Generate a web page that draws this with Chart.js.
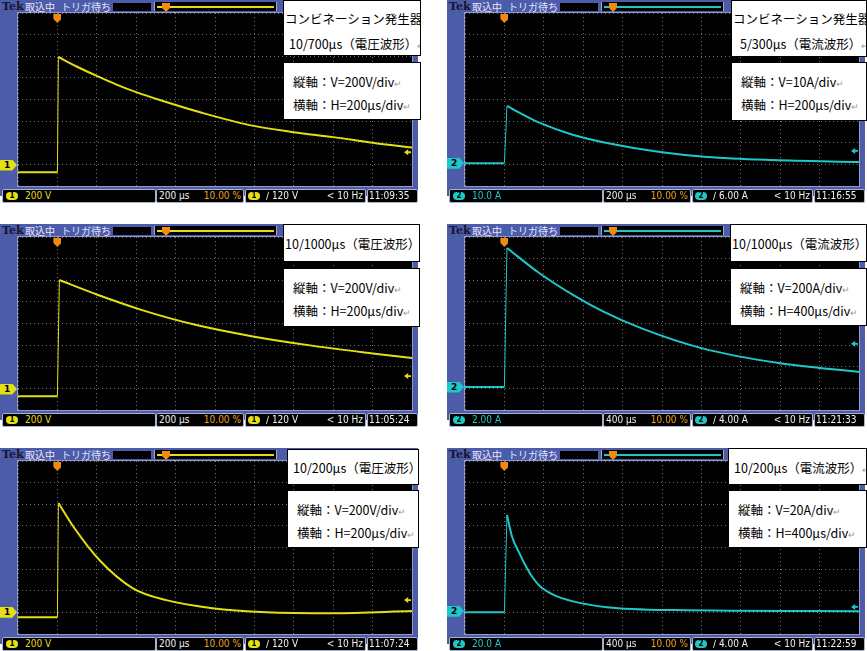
<!DOCTYPE html>
<html lang="ja">
<head>
<meta charset="UTF-8">
<title>コンビネーション発生器 波形</title>
<script src="https://cdn.jsdelivr.net/npm/chart.js"></script>
<style>
  body { margin:0; background:#fff; width:867px; height:651px; position:relative; overflow:hidden;
         font-family:"Noto Sans CJK JP", "Noto Sans", sans-serif; }
  .scope { position:absolute; width:418px; height:203px; }
  .frame { position:absolute; left:0; top:0; width:418px; height:196px; background:#4d5ca9; }
  .hdr { position:absolute; top:0; height:13px; line-height:13px; font-size:10px; color:#e2e4f8; white-space:nowrap; }
  .tek { font-family:"DejaVu Serif", serif; font-weight:bold; font-size:11px; color:#14142a; left:2px; }
  .blk { position:absolute; left:113px; top:3px; width:38px; height:8px; background:#000; }
  .rec { position:absolute; left:154px; top:2px; width:121px; height:9px; background:#000; border:1px solid #a8a8b8; border-top:none; border-bottom:none; }
  .recline { position:absolute; left:2px; right:2px; top:4px; height:2px; }
  .pin { position:absolute; width:8px; height:9px; background:#f08a10;
         clip-path:polygon(0 0,100% 0,100% 55%,50% 100%,0 55%); }
  .plot { position:absolute; left:17px; top:12px; width:394px; height:173px; background:#000; border:1px solid #8f9acb; }
  .plot canvas { position:absolute; left:0; top:0; }
  .chmark { position:absolute; left:0; width:17px; height:11px; font-size:9px; line-height:11px; color:#000; font-weight:bold;
            clip-path:polygon(0 0,72% 0,100% 50%,72% 100%,0 100%); padding-left:4px; box-sizing:border-box; font-family:"DejaVu Sans", sans-serif; }
  .lvl { position:absolute; width:7px; height:6px; clip-path:polygon(0 50%,60% 0,60% 35%,100% 35%,100% 65%,60% 65%,60% 100%); }
  .sb { position:absolute; top:189px; height:12px; background:#000; border:1px solid #a9b0cc; border-radius:2px;
        font-family:"Liberation Sans Narrow","DejaVu Sans Condensed",sans-serif; font-size:10px; line-height:12px; color:#f2f2f2; white-space:nowrap; }
  .badge { position:absolute; top:2px; width:12px; height:8px; border-radius:4px; color:#000; font-size:8px; line-height:8px; text-align:center; font-weight:bold; }
  .note { position:absolute; background:#fff; border:1px solid #000; box-sizing:border-box; font-size:12.5px; color:#000; white-space:nowrap; overflow:hidden; }
  .note div { position:absolute; left:0; }
  .ret { color:#9a9a9a; font-size:9px; }
</style>
</head>
<body>
<script>
// 画面から読み取った波形（時間 μs / 値 V または A）— 立上り後の減衰部分
const p1Time = [5, 100, 200, 300, 400, 520, 720, 975, 1200, 1400, 1600, 1800];
const p1Volt = [1065, 975, 890, 810, 740, 667, 556, 435, 370, 324, 272, 228];

const p2Time = [13, 100, 180, 350, 520, 790, 1030, 1360, 1800];
const p2Amp  = [26.5, 22.3, 18.7, 13.1, 9.4, 5.2, 2.9, 1.5, 0.6];

const p3Time = [10, 200, 430, 700, 1000, 1300, 1600, 1800];
const p3Volt = [1074, 940, 796, 660, 550, 465, 395, 352];

const p4Time = [26, 360, 700, 1000, 1400, 2000, 2800, 3600];
const p4Amp  = [1287, 1050, 850, 700, 540, 360, 220, 140];

const p5Time = [5, 86, 213, 381, 553, 787, 1061, 1396, 1800];
const p5Volt = [1056, 824, 528, 269, 157, 83, 46, 37, 56];

const p6Time = [26, 77, 150, 209, 280, 361, 500, 696, 1041, 1711, 3600];
const p6Amp  = [89.8, 70, 55, 44, 33, 24, 16, 10, 4.6, 1.9, 0.9];

// 表示条件
const unitPerDiv = [200, 10, 200, 200, 200, 20];
const timePerDiv = [200, 200, 200, 400, 200, 400];
const groundDiv  = [-3.36, -2.95, -3.36, -2.94, -3.22, -2.99];
const markerDiv  = [-3.03, -2.95, -3.03, -2.94, -2.99, -2.95];
const levelDiv   = [-2.44, -2.38, -2.43, -0.94, -2.43, -2.75];
const channel    = [1, 2, 1, 2, 1, 2];

// ステータスバー
const chScale   = ['200 V', '10.0 A', '200 V', '2.00 A', '200 V', '20.0 A'];
const hScale    = ['200 µs', '200 µs', '200 µs', '400 µs', '200 µs', '400 µs'];
const trigLevel = ['120 V', '6.00 A', '120 V', '4.00 A', '120 V', '4.00 A'];
const clock     = ['11:09:35', '11:16:55', '11:05:24', '11:21:33', '11:07:24', '11:22:59'];

// 注記
const titleLines = [
  ['コンビネーション発生器', '10/700μs（電圧波形）'],
  ['コンビネーション発生器', '5/300μs（電流波形）'],
  ['10/1000μs（電圧波形）'],
  ['10/1000μs（電流波形）'],
  ['10/200μs（電圧波形）'],
  ['10/200μs（電流波形）']
];
const axisLines = [
  ['縦軸：V=200V/div', '横軸：H=200μs/div'],
  ['縦軸：V=10A/div', '横軸：H=200μs/div'],
  ['縦軸：V=200V/div', '横軸：H=200μs/div'],
  ['縦軸：V=200A/div', '横軸：H=400μs/div'],
  ['縦軸：V=200V/div', '横軸：H=200μs/div'],
  ['縦軸：V=20A/div', '横軸：H=400μs/div']
];
const titleRet = [true, true, false, false, true, true];

const allTime = [p1Time, p2Time, p3Time, p4Time, p5Time, p6Time];
const allVal  = [p1Volt, p2Amp, p3Volt, p4Amp, p5Volt, p6Amp];

const panelPos = [[0, 0], [447, 0], [0, 224], [447, 224], [0, 448], [447, 448]];
const titleBox = [[283, 0, 138, 56], [731, 0, 136, 57], [283, 224, 137, 38], [730, 224, 137, 38], [287, 449, 132, 36], [728, 448, 139, 37]];
const axisBox  = [[283, 62, 138, 58], [731, 62, 136, 59], [283, 268, 137, 59], [730, 268, 137, 58], [287, 490, 132, 58], [728, 490, 139, 58]];

const YEL = '#e3df14', CYN = '#1fc8c8';
const PW = 394, PH = 173, DX = PW / 10, DY = PH / 8;

function el(parent, cls, css, html) {
  const d = document.createElement('div');
  if (cls) d.className = cls;
  if (css) d.style.cssText = css;
  if (html != null) d.innerHTML = html;
  parent.appendChild(d);
  return d;
}

function buildPanel(i) {
  const col = channel[i] === 1 ? YEL : CYN;
  const [L, T] = panelPos[i];
  const sc = el(document.body, 'scope', `left:${L}px;top:${T}px;`);
  el(sc, 'frame');
  el(sc, 'hdr tek', '', 'Tek');
  el(sc, 'hdr', 'left:25px;', '取込中');
  el(sc, 'hdr', 'left:61px;', 'トリガ待ち');
  el(sc, 'blk');
  const rec = el(sc, 'rec');
  el(rec, 'recline', `background:${col};`);
  el(sc, 'pin', 'top:3px;left:162px;');

  const plot = el(sc, 'plot');
  const cv = document.createElement('canvas');
  cv.width = PW; cv.height = PH;
  plot.appendChild(cv);
  el(plot, 'pin', `left:${DX - 4}px;top:1px;`);

  // チャンネル位置マーカー・トリガレベル
  el(sc, 'chmark', `top:${13 + PH / 2 - markerDiv[i] * DY - 5.5}px;background:${col};`, String(channel[i]));
  el(sc, 'lvl', `left:404px;top:${13 + PH / 2 - levelDiv[i] * DY - 3}px;background:${col};`);

  // ステータスバー
  const b1 = el(sc, 'sb', 'left:2px;width:152px;');
  el(b1, 'badge', `left:3px;background:${col};`, String(channel[i]));
  el(b1, '', `position:absolute;left:22px;color:${col};`, chScale[i]);
  const b2 = el(sc, 'sb', 'left:156px;width:86px;');
  el(b2, '', 'position:absolute;left:2px;', hScale[i]);
  el(b2, '', 'position:absolute;right:2px;color:#f0a020;', '10.00 %');
  const b3 = el(sc, 'sb', 'left:245px;width:119px;');
  el(b3, 'badge', `left:2px;background:${col};`, String(channel[i]));
  el(b3, '', 'position:absolute;left:20px;', '∕ ' + trigLevel[i]);
  el(b3, '', 'position:absolute;right:2px;', '&lt; 10 Hz');
  const b4 = el(sc, 'sb', 'left:367px;width:49px;');
  el(b4, '', 'position:absolute;left:1px;', clock[i]);

  makeChart(cv, i, col);
}

function makeChart(cv, i, col) {
  const td = timePerDiv[i], vd = unitPerDiv[i], g = groundDiv[i];
  const t = allTime[i], v = allVal[i];
  const base = [{ x: -td, y: 0 }, { x: 0, y: 0 }];
  const rise = [{ x: 0, y: 0 }, { x: t[0], y: v[0] }];
  const decay = t.map((x, k) => ({ x, y: v[k] }));
  const gridOpts = { color: 'rgba(150,150,150,0.75)', lineWidth: 1, drawTicks: false, tickLength: 0 };
  new Chart(cv, {
    type: 'line',
    data: {
      datasets: [
        { data: base, borderColor: col, borderWidth: 2, pointRadius: 0, tension: 0 },
        { data: rise, borderColor: col, borderWidth: 1, pointRadius: 0, tension: 0 },
        { data: decay, borderColor: col, borderWidth: 2, pointRadius: 0, cubicInterpolationMode: 'monotone' }
      ]
    },
    options: {
      responsive: false,
      animation: false,
      layout: { padding: 0 },
      plugins: { legend: { display: false }, tooltip: { enabled: false } },
      scales: {
        x: { type: 'linear', min: -td, max: 9 * td, ticks: { display: false, stepSize: td },
             grid: gridOpts, border: { display: false, dash: [1, 3] } },
        y: { type: 'linear', min: (-4 - g) * vd, max: (4 - g) * vd, ticks: { display: false, stepSize: vd },
             grid: gridOpts, border: { display: false, dash: [1, 3] } }
      }
    }
  });
}

function buildNote(box, lines, rets, lineTops, padLeft) {
  const [x, y, w, h] = box;
  const n = el(document.body, 'note', `left:${x}px;top:${y}px;width:${w}px;height:${h}px;`);
  lines.forEach((s, k) => {
    el(n, '', `top:${lineTops[k]}px;left:${padLeft[k]}px;`, s + (rets[k] ? '<span class="ret">↵</span>' : ''));
  });
}

for (let i = 0; i < 6; i++) buildPanel(i);
for (let i = 0; i < 6; i++) {
  const tl = titleLines[i];
  if (tl.length === 2) {
    buildNote(titleBox[i], tl, [titleRet[i], titleRet[i]], [8, 33], [1, i === 0 ? 5 : 8]);
  } else {
    const h = titleBox[i][3];
    buildNote(titleBox[i], tl, [titleRet[i]], [(h - 18) / 2 - 1], [i < 4 ? 1 : 5]);
  }
  buildNote(axisBox[i], axisLines[i], [true, true], [9, 32], [9, 9]);
}
</script>
</body>
</html>
